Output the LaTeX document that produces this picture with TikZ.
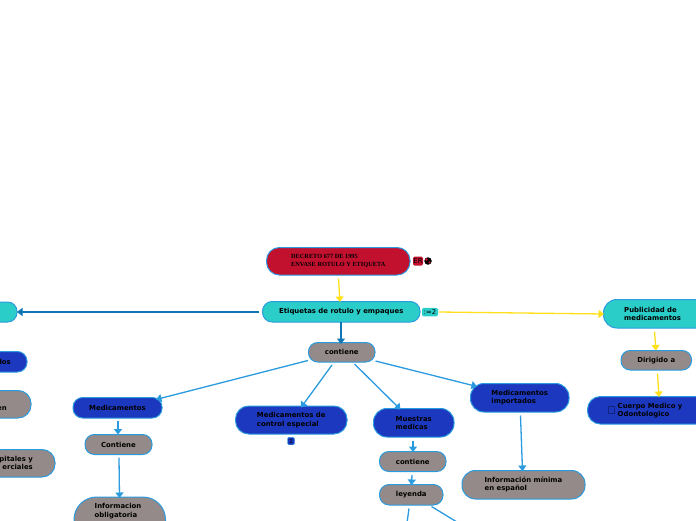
\documentclass[tikz,border=0pt]{standalone}
\usepackage{fontspec}
\setmainfont{DejaVu Sans}
\newfontfamily\serifb{Liberation Serif}
\usetikzlibrary{arrows.meta}
\definecolor{edgeb}{HTML}{2A9BDF}
\definecolor{darkb}{HTML}{0F75B5}
\definecolor{yel}{HTML}{FFE01A}
\definecolor{teal}{HTML}{2BCDC8}
\definecolor{roy}{HTML}{1B38BE}
\definecolor{gry}{HTML}{948A89}
\definecolor{crim}{HTML}{C2112F}
\tikzset{
 x=1pt,y=-1pt,
 txt/.style={inner sep=0pt,align=left,font=\fontsize{6.9}{8.3}\selectfont\bfseries,text=black},
 link/.style={edgeb,line width=1.3pt,-{Triangle[width=8pt,length=5.5pt]}},
 ylink/.style={link,yel},
 dlink/.style={link,darkb},
 badge/.style={rounded corners=1.5pt,inner sep=0pt,font=\fontsize{6.8}{7}\selectfont,text=black},
}
\newcommand{\topicnode}[7]{% name, x0,y0,x1,y1, fill, text
 \pgfmathsetmacro{\myrad}{(#5-#3)*0.47}
 \path[draw=edgeb,line width=1pt,rounded corners=\myrad pt,fill=#6] (#2,#3) rectangle (#4,#5);
 \node[txt] (#1) at ({(#2+#4)/2},{(#3+#5)/2}) {#7};
}
\begin{document}
\begin{tikzpicture}
\useasboundingbox (0,0) rectangle (696,520);
\clip (0,0) rectangle (696,520);
\fill[white] (0,0) rectangle (696,520);
% nodes
\topicnode{dec}{266.5}{247.5}{410}{275}{crim}{\serifb\bfseries\fontsize{6.3}{8}\selectfont DECRETO 677 DE 1995\\\serifb\bfseries\fontsize{6.3}{8}\selectfont ENVASE ROTULO Y ETIQUETA}
\topicnode{eti}{262.5}{301.5}{420}{322}{teal}{Etiquetas de rotulo y empaques}
\topicnode{lt}{-30}{302}{17}{322}{teal}{}
\topicnode{con}{308.5}{342.5}{375}{362}{gry}{contiene}
\topicnode{med}{73}{397.5}{162}{418}{roy}{Medicamentos}
\topicnode{con2}{85}{434.5}{152}{454.5}{gry}{Contiene}
\topicnode{inf}{74}{497}{165.5}{545}{gry}{}
\node[txt,anchor=north west] (inft) at (94.5,503.5) {Informacion\\obligatoria};
\topicnode{la}{-60}{351.5}{27}{372}{roy}{}
\node[txt,anchor=east] (lat) at (11,361.5) {dos};
\topicnode{lb}{-60}{390.5}{31}{418}{gry}{}
\node[txt,anchor=east] (lbt) at (7,409) {en};
\topicnode{lc}{-60}{449.5}{55}{477}{gry}{}
\node[txt,anchor=north east,align=right] (lct) at (33,456) {pitales y\\erciales};
\topicnode{mce}{235.5}{406}{347}{434}{roy}{Medicamentos de\\control especial}
\topicnode{mue}{373.5}{408.5}{454}{437}{roy}{Muestras\\medicas}
\topicnode{con3}{379.5}{451.5}{446}{471.5}{gry}{contiene}
\topicnode{ley}{379.5}{484.5}{443}{505}{gry}{leyenda}
\topicnode{imp}{470.5}{383.5}{569}{412}{roy}{Medicamentos\\importados}
\topicnode{min}{462}{470.5}{585}{499}{gry}{Información mínima\\en español}
\topicnode{pub}{603.5}{299.5}{720}{328}{teal}{}
\node[txt,anchor=west] (pubt) at (624,314) {Publicidad de\\medicamentos};
\topicnode{dir}{621}{350.5}{691.5}{370}{gry}{Dirigido a}
\topicnode{cue}{587.5}{396.5}{730}{424}{roy}{}
\node[txt,anchor=west] (cuet) at (617.5,410.5) {Cuerpo Medico y\\Odontologico};
\draw[roy!65!black,line width=.5pt] (608,406.5) rectangle (614.5,413);
% badges
\node[badge,fill=crim,minimum width=10pt,minimum height=9pt] (er) at (418,261) {ER};
\node[circle,fill=black,minimum size=7.5pt,inner sep=0pt] (gl) at (428,261) {};
\fill[crim] (426.5,259.5) circle (1.4pt) (429.5,262.5) circle (1.2pt);
\node[badge,fill=teal,minimum width=16pt,minimum height=8.5pt] (eq) at (430,312) {:=2};
\node[badge,fill=roy,draw=edgeb,line width=.4pt,minimum width=7pt,minimum height=7.5pt,font=\fontsize{5.5}{6}\selectfont] (two) at (291,441) {2};
% connectors
\coordinate (a1) at (338.5,278.5);\coordinate (a2) at (340,302);
\draw[ylink] (a1) -- (a2);
\coordinate (b1) at (341,322);\coordinate (b2) at (341,344);
\draw[dlink] (b1) -- (b2);
\coordinate (c1) at (259,312);\coordinate (c2) at (17,312);
\draw[dlink] (c1) -- (c2);
\coordinate (d1) at (439,312);\coordinate (d2) at (604,314);
\draw[ylink] (d1) -- (d2);
\coordinate (e1) at (308,360.5);\coordinate (e2) at (156,399.5);
\draw[link] (e1) -- (e2);
\coordinate (f1) at (332,365);\coordinate (f2) at (301,407.5);
\draw[link] (f1) -- (f2);
\coordinate (g1) at (354.5,364);\coordinate (g2) at (400.5,409.5);
\draw[link] (g1) -- (g2);
\coordinate (h1) at (375.5,361);\coordinate (h2) at (477,386.5);
\draw[link] (h1) -- (h2);
\coordinate (i1) at (118,421);\coordinate (i2) at (118,434.5);
\draw[link] (i1) -- (i2);
\coordinate (j1) at (119,457.5);\coordinate (j2) at (119.5,498);
\draw[link] (j1) -- (j2);
\coordinate (k1) at (413,440.5);\coordinate (k2) at (413,452);
\draw[link] (k1) -- (k2);
\coordinate (l1) at (412,475);\coordinate (l2) at (411.5,485);
\draw[link] (l1) -- (l2);
\coordinate (m1) at (409,508.5);\coordinate (m2) at (406,530);
\draw[link] (m1) -- (m2);
\coordinate (n1) at (431.5,506.5);\coordinate (n2) at (470,530);
\draw[link] (n1) -- (n2);
\coordinate (o1) at (520.5,415.5);\coordinate (o2) at (522.5,471);
\draw[link] (o1) -- (o2);
\coordinate (p1) at (654.5,331.5);\coordinate (p2) at (656,350.5);
\draw[ylink] (p1) -- (p2);
\coordinate (q1) at (657.5,373.5);\coordinate (q2) at (659,397);
\draw[ylink] (q1) -- (q2);
\end{tikzpicture}
\end{document}
